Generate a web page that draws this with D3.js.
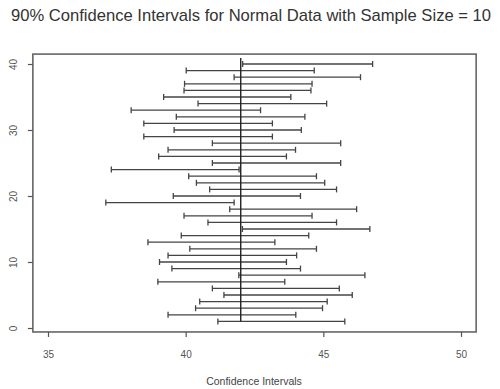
<!DOCTYPE html>
<meta charset="utf-8">
<style>
  body { margin: 0; background: #fff; }
  text { font-family: "Liberation Sans", Arial, sans-serif; }
  .axis text { fill: #555; font-size: 10px; }
  .axis line { stroke: #555; stroke-width: 1.2; }
  .axis path { display: none; }
</style>
<html>
<body>
<script src="https://cdnjs.cloudflare.com/ajax/libs/d3/7.8.5/d3.min.js"></script>
<script>

// sample index 1..40, lower / upper ends of each interval
var sampleIndex = d3.range(1, 41);
var lower = [41.17, 39.36, 40.36, 40.51, 41.39, 40.97, 38.99, 41.93, 39.50, 39.05,
             39.36, 40.15, 38.63, 39.84, 42.06, 40.81, 39.94, 41.60, 37.10, 39.55,
             40.87, 40.39, 40.11, 37.30, 40.97, 39.02, 39.36, 40.97, 38.48, 39.58,
             38.48, 39.66, 38.02, 40.45, 39.20, 39.94, 39.96, 41.76, 40.02, 42.07];
var upper = [45.78, 44.00, 44.97, 45.14, 46.05, 45.58, 43.60, 46.51, 44.17, 43.66,
             44.03, 44.75, 43.24, 44.47, 46.69, 45.48, 44.59, 46.21, 41.76, 44.17,
             45.48, 45.05, 44.75, 41.94, 45.63, 43.66, 43.99, 45.63, 43.15, 44.20,
             43.15, 44.33, 42.72, 45.12, 43.82, 44.55, 44.59, 46.35, 44.67, 46.79];
var trueMean = 42;
var xTicks = [35, 40, 45, 50];
var yTicks = [0, 10, 20, 30, 40];

var width = 500, height = 389;

var svg = d3.select('body').append('svg')
    .attr('width', width)
    .attr('height', height);

// scales (plot region with R-style padding)
var x = d3.scaleLinear().domain([35, 50]).range([48, 461]);
var y = d3.scaleLinear().domain([0, 40]).range([328, 64]);
var xlim = [34.45, 50.55], ylim = [-0.6, 41.5];

// title
svg.append('text')
    .attr('x', 251)
    .attr('y', 21)
    .attr('text-anchor', 'middle')
    .style('font-size', '16.6px')
    .style('fill', '#333')
    .text('90% Confidence Intervals for Normal Data with Sample Size = 10');

// box
svg.append('rect')
    .attr('x', x(xlim[0]))
    .attr('y', y(ylim[1]))
    .attr('width', x(xlim[1]) - x(xlim[0]))
    .attr('height', y(ylim[0]) - y(ylim[1]))
    .attr('fill', 'none')
    .attr('stroke', '#666')
    .attr('stroke-width', 1.6);

// x axis
var gx = svg.append('g')
    .attr('class', 'axis')
    .attr('transform', 'translate(0,' + y(ylim[0]) + ')')
    .call(d3.axisBottom(x).tickValues(xTicks).tickSize(5).tickPadding(14));

// y axis with rotated labels
var gy = svg.append('g')
    .attr('class', 'axis')
    .attr('transform', 'translate(' + x(xlim[0]) + ',0)')
    .call(d3.axisLeft(y).tickValues(yTicks).tickSize(5));
gy.selectAll('text')
    .attr('x', 0)
    .attr('y', 0)
    .attr('dy', 0)
    .attr('text-anchor', 'middle')
    .attr('transform', 'translate(-16,0) rotate(-90)');

// x label
svg.append('text')
    .attr('x', 254)
    .attr('y', 385)
    .attr('text-anchor', 'middle')
    .style('font-size', '10.5px')
    .style('fill', '#444')
    .text('Confidence Intervals');

var g = svg.append('g');

// interval lines
g.selectAll('.ci')
    .data(sampleIndex)
    .enter().append('line')
    .attr('class', 'ci')
    .attr('x1', function(d, i) { return x(lower[i]); })
    .attr('x2', function(d, i) { return x(upper[i]); })
    .attr('y1', function(d) { return y(d); })
    .attr('y2', function(d) { return y(d); })
    .attr('stroke', '#444')
    .attr('stroke-width', 1.3);

// end caps
g.selectAll('.capL')
    .data(sampleIndex)
    .enter().append('line')
    .attr('x1', function(d, i) { return x(lower[i]); })
    .attr('x2', function(d, i) { return x(lower[i]); })
    .attr('y1', function(d) { return y(d) - 3; })
    .attr('y2', function(d) { return y(d) + 3; })
    .attr('stroke', '#444')
    .attr('stroke-width', 1.3);
g.selectAll('.capR')
    .data(sampleIndex)
    .enter().append('line')
    .attr('x1', function(d, i) { return x(upper[i]); })
    .attr('x2', function(d, i) { return x(upper[i]); })
    .attr('y1', function(d) { return y(d) - 3; })
    .attr('y2', function(d) { return y(d) + 3; })
    .attr('stroke', '#444')
    .attr('stroke-width', 1.3);

// true mean line
svg.append('line')
    .attr('x1', x(trueMean))
    .attr('x2', x(trueMean))
    .attr('y1', y(40.9))
    .attr('y2', y(1))
    .attr('stroke', '#222')
    .attr('stroke-width', 1.4);

</script>
</body>
</html>
